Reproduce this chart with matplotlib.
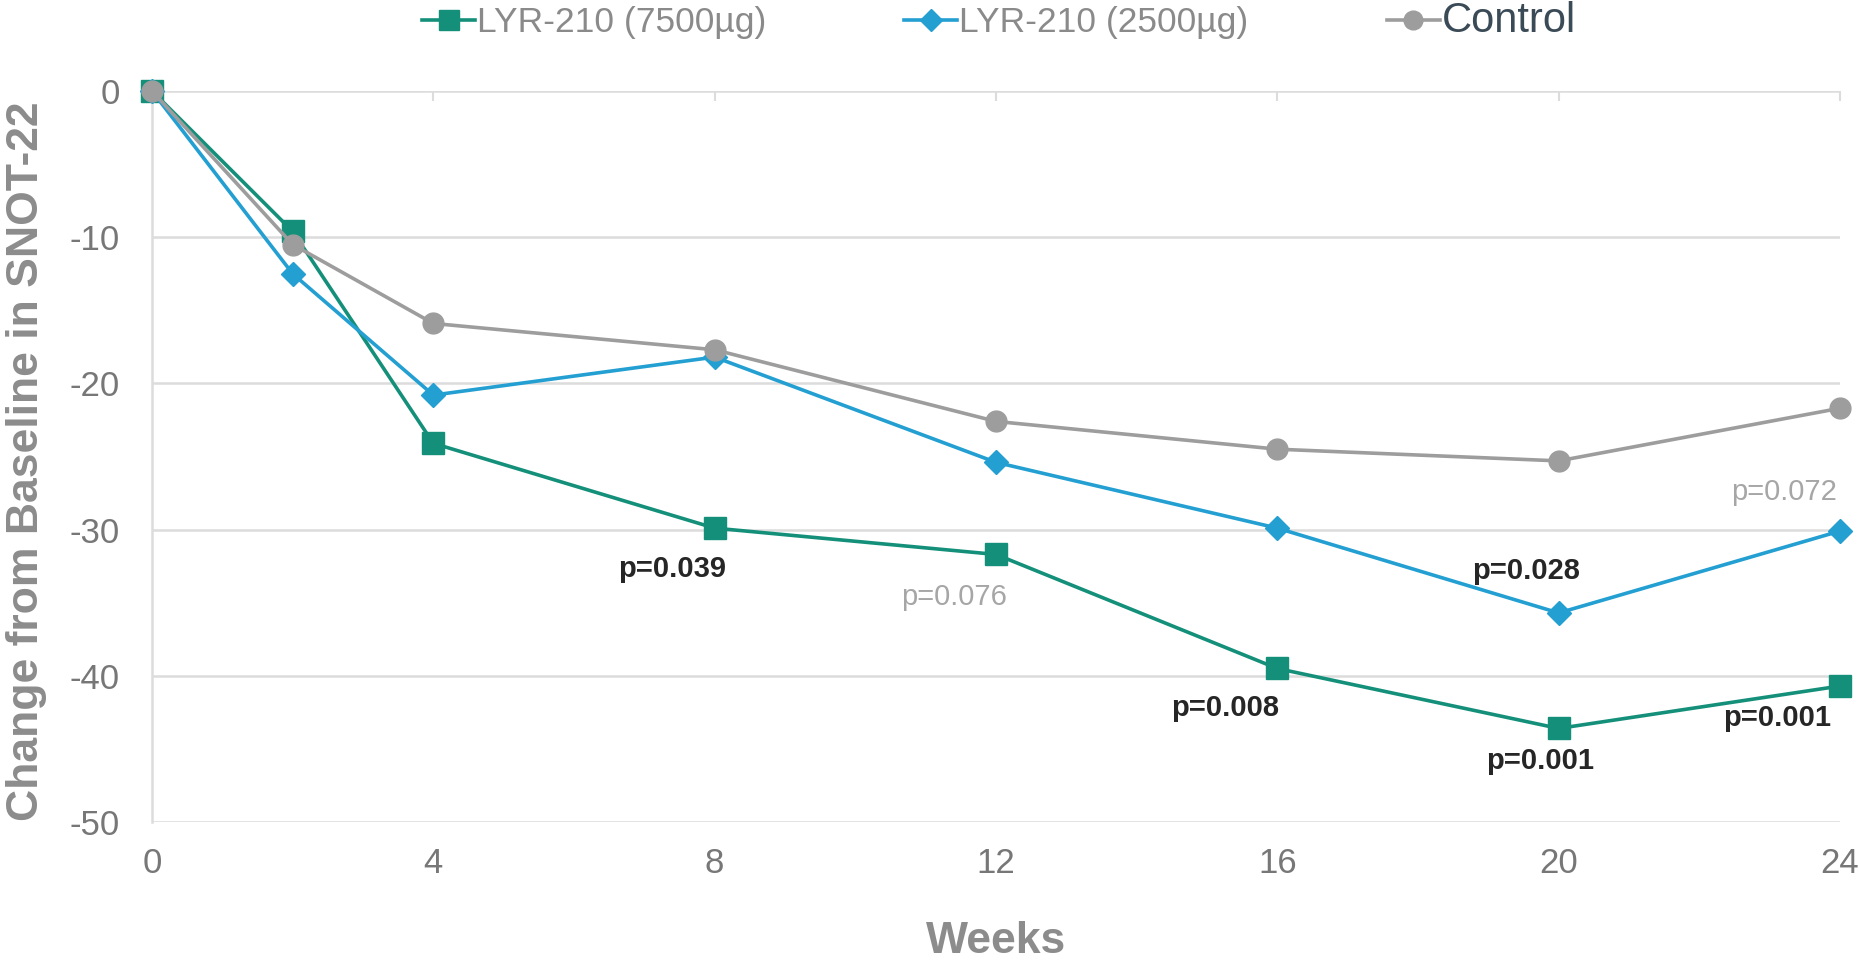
import matplotlib
matplotlib.use('Agg')
import matplotlib.pyplot as plt

plt.rcParams['font.family'] = ['Liberation Sans', 'DejaVu Sans']
plt.rcParams['axes.unicode_minus'] = False

# Data
weeks = [0, 2, 4, 8, 12, 16, 20, 24]
lyr_7500 = [0, -9.6, -24.1, -29.9, -31.7, -39.5, -43.6, -40.7]
lyr_2500 = [0, -12.5, -20.8, -18.2, -25.4, -29.9, -35.7, -30.1]
control = [0, -10.5, -15.9, -17.7, -22.6, -24.5, -25.3, -21.7]

x_ticks = [0, 4, 8, 12, 16, 20, 24]
y_ticks = [0, -10, -20, -30, -40, -50]

# p-value annotations (text, week, value, significant)
p_text = ['p=0.039', 'p=0.076', 'p=0.008', 'p=0.001', 'p=0.001', 'p=0.028', 'p=0.072']
p_week = [7.4, 11.4, 15.26, 19.74, 23.1, 19.54, 23.2]
p_value = [-32.7, -34.6, -42.2, -45.8, -42.9, -32.8, -27.4]
p_signif = [True, False, True, True, True, True, False]

green = '#14907a'
blue = '#239fd2'
grey = '#9d9d9d'

fig = plt.figure(figsize=(18.6, 9.6), dpi=100)
ax = fig.add_axes([152 / 1860, 1 - 822 / 960, (1840 - 152) / 1860, (822 - 91) / 960])

ax.plot(weeks, lyr_7500, color=green, lw=2.6, marker='s', ms=16,
        label='LYR-210 (7500µg)', clip_on=False, zorder=3)
ax.plot(weeks, lyr_2500, color=blue, lw=2.6, marker='D', ms=12,
        label='LYR-210 (2500µg)', clip_on=False, zorder=4)
ax.plot(weeks, control, color=grey, lw=2.6, marker='o', ms=15,
        label='Control', clip_on=False, zorder=5)

for t, xw, yv, sig in zip(p_text, p_week, p_value, p_signif):
    ax.text(xw, yv, t, ha='center', va='center', fontsize=21,
            fontweight='bold' if sig else 'normal',
            color='#262626' if sig else '#a6a6a6')

ax.set_xlim(0, 24)
ax.set_ylim(-50, 0)
ax.set_xticks(x_ticks)
ax.set_yticks(y_ticks)
ax.grid(axis='y', color='#dcdcdc', lw=1.8)
ax.set_axisbelow(True)
for s in ['top', 'right', 'bottom']:
    ax.spines[s].set_visible(False)
ax.spines['left'].set_color('#dcdcdc')
ax.spines['left'].set_linewidth(1.8)

ax.tick_params(axis='y', length=0, pad=23, labelsize=25, labelcolor='#777777')
ax.tick_params(axis='x', top=True, bottom=False, labeltop=False, labelbottom=True,
               direction='in', length=7, width=1.5, color='#dcdcdc',
               pad=18, labelsize=25, labelcolor='#777777')

ax.set_ylabel('Change from Baseline in SNOT-22', fontsize=32, fontweight='bold',
              color='#8c8c8c')
ax.yaxis.set_label_coords(-0.062, 0.494)
ax.set_xlabel('Weeks', fontsize=32, fontweight='bold', color='#8c8c8c')
ax.xaxis.set_label_coords(0.5, -0.135)

leg = fig.legend(loc='center', bbox_to_anchor=(0.537, 0.978), ncol=3, frameon=False,
                 fontsize=25.5, handlelength=1.5, handletextpad=0.05, columnspacing=3.9,
                 markerscale=0.9)
for txt in leg.get_texts():
    txt.set_color('#8a8a8a')
leg.get_texts()[2].set_color('#3a4a56')
leg.get_texts()[2].set_fontsize(30)

fig.savefig('out.png', dpi=100)
